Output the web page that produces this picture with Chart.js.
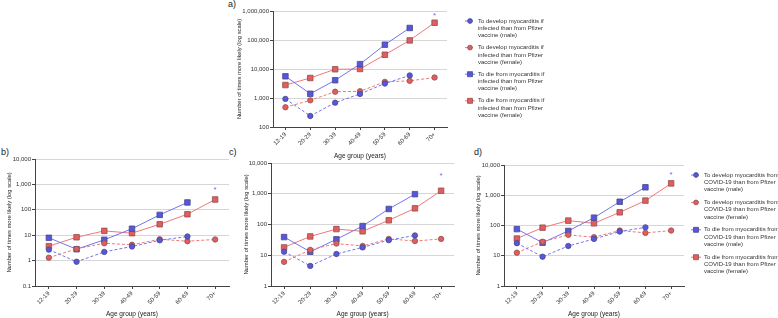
<!DOCTYPE html>
<html lang="en">
<head>
  <meta charset="UTF-8"><meta name="viewport" content="width=device-width">
  <title>Myocarditis risk by age group</title>
  <script src="https://cdn.jsdelivr.net/npm/chart.js"></script>
  <style>
    body{margin:0;background:#fff;font-family:"Liberation Sans",Arial,sans-serif;}
    #wrap{position:relative;width:778px;height:318px;overflow:hidden;}
    canvas{position:absolute;}
    .lbl{position:absolute;font-size:9px;color:#222;line-height:9px;}
  </style>
</head>
<body>
<div id="wrap">
  <div class="lbl" style="left:228px;top:0px">a)</div>
  <div class="lbl" style="left:1px;top:148px">b)</div>
  <div class="lbl" style="left:229px;top:148px">c)</div>
  <div class="lbl" style="left:474px;top:148px">d)</div>
  <canvas id="chartA" width="345" height="160" style="left:236px;top:0px"></canvas>
  <canvas id="chartB" width="236" height="168" style="left:6px;top:150px"></canvas>
  <canvas id="chartC" width="216" height="168" style="left:243px;top:150px"></canvas>
  <canvas id="chartD" width="303" height="168" style="left:475px;top:150px"></canvas>
</div>

<script>
  // data
  const ageGroups = ['12-19','20-29','30-39','40-49','50-59','60-69','70+'];

  // a) infected vs Pfizer vaccine
  const aDevMale   = [930, 240, 690, 1380, 3150, 6000, null];
  const aDevFemale = [480, 830, 1650, 1700, 3600, 3900, 5100];
  const aDieMale   = [5600, 1400, 4100, 14700, 69000, 260000, null];
  const aDieFemale = [2800, 4900, 9800, 10000, 31000, 97000, 395000];
  const aStar = 820000;
  const aTicks = [100, 1000, 10000, 100000, 1000000];

  // b)
  const bDevMale   = [2.7, 0.9, 2.2, 3.6, 6.3, 8.9, null];
  const bDevFemale = [1.3, 2.9, 4.8, 4.2, 6.9, 5.8, 6.8];
  const bDieMale   = [7.9, 2.8, 6.6, 18, 63, 195, null];
  const bDieFemale = [3.7, 8.3, 14.8, 12, 27, 67, 255];
  const bStar = 760;
  const bTicks = [0.1, 1, 10, 100, 1000, 10000];

  // c)
  const cDevMale   = [13, 4.5, 11, 18, 31, 44, null];
  const cDevFemale = [6.1, 15, 24, 20, 34, 29, 34];
  const cDieMale   = [39, 13, 33, 89, 320, 970, null];
  const cDieFemale = [18, 41, 71, 60, 137, 335, 1250];
  const cStar = 4400;
  const cTicks = [1, 10, 100, 1000, 10000];

  // d) COVID-19 vs Pfizer vaccine
  const dDevMale   = [26, 9.3, 21, 36, 63, 87, null];
  const dDevFemale = [12.6, 29, 49, 41, 68, 57, 68];
  const dDieMale   = [76, 27, 66, 182, 610, 1830, null];
  const dDieFemale = [37, 85, 145, 118, 272, 665, 2470];
  const dStar = 5600;
  const dTicks = [1, 10, 100, 1000, 10000];

  const legendA = [
    ['To develop myocarditis if','infected than from Pfizer','vaccine (male)'],
    ['To develop myocarditis if','infected than from Pfizer','vaccine (female)'],
    ['To die from myocarditis if','infected than from Pfizer','vaccine (male)'],
    ['To die from myocarditis if','infected than from Pfizer','vaccine (female)']
  ];
  const legendD = [
    ['To develop myocarditis from','COVID-19 than from Pfizer','vaccine (male)'],
    ['To develop myocarditis from','COVID-19 than from Pfizer','vaccine (female)'],
    ['To die from myocarditis from','COVID-19 than from Pfizer','vaccine (male)'],
    ['To die from myocarditis from','COVID-19 than from Pfizer','vaccine (female)']
  ];

  const FONT = '"Liberation Sans", Arial, sans-serif';
  const BLUE_LINE='#7474ee', BLUE_PT='#5656de', BLUE_EDGE='#4a4a86';
  const RED_LINE='#f07878', RED_PT='#e65c5c', RED_EDGE='#8c5050';

  function ds(data, male, die){
    return {
      data,
      borderColor: male?BLUE_LINE:RED_LINE,
      backgroundColor: male?BLUE_PT:RED_PT,
      pointBorderColor: male?BLUE_EDGE:RED_EDGE,
      pointBorderWidth: 0.8,
      borderWidth: 1,
      borderDash: die?[]:[3,2],
      pointStyle: die?'rect':'circle',
      pointRadius: die?3.9:2.7,
      tension: 0
    };
  }

  // legend on the right, text wrapped over three lines
  const sideLegend = {
    id:'sideLegend',
    afterDraw(chart, args, o){
      if(!o.items) return;
      const ctx=chart.ctx;
      ctx.save();
      chart.data.datasets.forEach((d,i)=>{
        const y=o.y+i*o.step;
        ctx.strokeStyle=d.borderColor; ctx.lineWidth=1;
        ctx.setLineDash(d.borderDash);
        ctx.beginPath(); ctx.moveTo(o.x-5,y); ctx.lineTo(o.x+5,y); ctx.stroke();
        ctx.setLineDash([]);
        ctx.fillStyle=d.backgroundColor; ctx.strokeStyle=d.pointBorderColor; ctx.lineWidth=0.8;
        ctx.beginPath();
        if(d.pointStyle==='rect') ctx.rect(o.x-2.5,y-2.5,5,5);
        else ctx.arc(o.x,y,2.4,0,Math.PI*2);
        ctx.fill(); ctx.stroke();
        ctx.fillStyle='#333'; ctx.font='6px '+FONT; ctx.textBaseline='middle';
        o.items[i].forEach((t,k)=>ctx.fillText(t,o.x+8,y+k*7.3));
      });
      ctx.restore();
    }
  };

  // blue asterisk above the 70+ group
  const star = {
    id:'star',
    afterDatasetsDraw(chart, args, o){
      const x=chart.scales.x.getPixelForValue(ageGroups.length-1);
      const y=chart.scales.y.getPixelForValue(o.value);
      const ctx=chart.ctx;
      ctx.save();
      ctx.fillStyle='#6a6aee'; ctx.font='8px '+FONT;
      ctx.textAlign='center'; ctx.textBaseline='middle';
      ctx.fillText('*',x,y+2);
      ctx.restore();
    }
  };

  function makeChart(id, series, ticks, starVal, box, legend){
    const cv=document.getElementById(id);
    const L=parseFloat(cv.style.left), T=parseFloat(cv.style.top);
    new Chart(cv,{
      type:'line',
      data:{labels:ageGroups,datasets:[
        ds(series[0],true,false), ds(series[1],false,false),
        ds(series[2],true,true),  ds(series[3],false,true)
      ]},
      plugins:[sideLegend,star],
      options:{
        responsive:false, animation:false, devicePixelRatio:1,
        layout:{padding:{left:0,top:box.t-T,right:(L+cv.width)-box.r,bottom:0}},
        plugins:{
          legend:{display:false}, tooltip:{enabled:false},
          star:{value:starVal},
          sideLegend: legend ? {items:legend.items,x:legend.x-L,y:legend.y-T,step:legend.step} : {}
        },
        scales:{
          x:{
            offset:true,
            grid:{drawOnChartArea:false,tickLength:3,tickColor:'#444'},
            border:{color:'#444',width:1},
            ticks:{minRotation:45,maxRotation:45,padding:1,color:'#333',font:{family:FONT,size:6}},
            title:{display:true,text:'Age group (years)',color:'#222',padding:0,font:{family:FONT,size:6.5}},
            afterFit:s=>{s.height=(T+cv.height)-box.b;}
          },
          y:{
            type:'logarithmic', min:ticks[0], max:ticks[ticks.length-1],
            afterBuildTicks:s=>{s.ticks=ticks.map(v=>({value:v}));},
            grid:{color:'#d6d6d6',tickLength:3,tickColor:'#444'},
            border:{color:'#444',width:1},
            ticks:{padding:1,color:'#333',font:{family:FONT,size:6},
              callback:v=>Number(v).toLocaleString('en-US')},
            title:{display:true,text:'Number of times more likely (log scale)',color:'#222',padding:0,font:{family:FONT,size:5.8}},
            afterFit:s=>{s.width=box.l-L;}
          }
        }
      }
    });
  }

  makeChart('chartA',[aDevMale,aDevFemale,aDieMale,aDieFemale],aTicks,aStar,
    {l:273,t:11,r:447,b:127},{items:legendA,x:470,y:21,step:26.6});
  makeChart('chartB',[bDevMale,bDevFemale,bDieMale,bDieFemale],bTicks,bStar,
    {l:35,t:159,r:229,b:286});
  makeChart('chartC',[cDevMale,cDevFemale,cDieMale,cDieFemale],cTicks,cStar,
    {l:271,t:163,r:457,b:286});
  makeChart('chartD',[dDevMale,dDevFemale,dDieMale,dDieFemale],dTicks,dStar,
    {l:504,t:165,r:684,b:286},{items:legendD,x:696,y:175,step:27.4});
</script>
</body>
</html>
